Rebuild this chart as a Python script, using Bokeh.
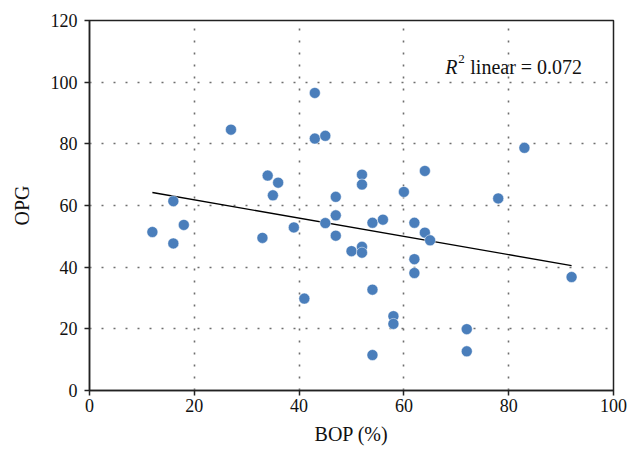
from bokeh.plotting import figure
from bokeh.models import Label, Range1d, SingleIntervalTicker
from bokeh.embed import file_html
from bokeh.resources import INLINE

# Data
bop = [12, 16, 16, 18, 27, 33, 34, 35, 36, 39, 41, 43, 43, 45, 45, 47, 47, 47,
       50, 52, 52, 52, 52, 54, 54, 54, 56, 58, 58, 60, 62, 62, 62, 64, 64, 65,
       72, 72, 78, 83, 92]
opg = [51.4, 61.4, 47.7, 53.7, 84.6, 49.5, 69.7, 63.3, 67.4, 52.9, 29.8, 96.5,
       81.7, 82.6, 54.3, 62.8, 56.8, 50.2, 45.2, 70.0, 66.8, 46.6, 44.7, 54.4,
       32.7, 11.5, 55.4, 24.1, 21.6, 64.4, 54.4, 42.6, 38.1, 71.2, 51.2, 48.7,
       19.9, 12.7, 62.3, 78.7, 36.8]
fit_x = [12, 92]
fit_y = [64.2, 40.5]
r2_text = "linear = 0.072"

FONT = "Liberation Serif"

p = figure(width=627, height=447, output_backend="svg", toolbar_location=None,
           x_range=Range1d(0, 100), y_range=Range1d(0, 120),
           min_border_left=89, min_border_right=14, min_border_top=20,
           min_border_bottom=55)

p.background_fill_color = "white"
p.border_fill_color = "white"
p.outline_line_color = "#222222"
p.outline_line_width = 1.5

for ax in (p.xaxis[0], p.yaxis[0]):
    ax.ticker = SingleIntervalTicker(interval=20)
    ax.minor_tick_line_color = None
    ax.major_tick_in = 0
    ax.major_tick_out = 5
    ax.major_tick_line_color = "#222222"
    ax.major_tick_line_width = 1.5
    ax.axis_line_color = "#222222"
    ax.axis_line_width = 1.5
    ax.major_label_text_font = FONT
    ax.major_label_text_font_size = "18px"
    ax.major_label_text_color = "#111111"
    ax.axis_label_text_font = FONT
    ax.axis_label_text_font_size = "20px"
    ax.axis_label_text_font_style = "normal"
    ax.axis_label_text_color = "#111111"

p.xaxis.axis_label = "BOP (%)"
p.yaxis.axis_label = "OPG"
p.xaxis.major_label_standoff = 3
p.xaxis.axis_label_standoff = 8
p.yaxis.major_label_standoff = 7
p.yaxis.axis_label_standoff = 15

for g in (p.xgrid[0], p.ygrid[0]):
    g.ticker = SingleIntervalTicker(interval=20)
    g.grid_line_color = "#6e6e6e"
    g.grid_line_width = 1.6
    g.grid_line_dash = "2 10"

p.line(fit_x, fit_y, line_color="black", line_width=1.4)
p.scatter(bop, opg, size=11, fill_color="#4a7ebb", line_color="white",
          line_alpha=0.6, line_width=0.8)

p.add_layout(Label(x=67.9, y=104.8, text="R", text_font=FONT,
                   text_font_size="20px", text_font_style="italic",
                   text_color="#111111", text_baseline="alphabetic"))
p.add_layout(Label(x=67.9, y=104.8, x_offset=13, y_offset=8, text="2",
                   text_font=FONT, text_font_size="13px",
                   text_color="#111111", text_baseline="alphabetic"))
p.add_layout(Label(x=67.9, y=104.8, x_offset=25, text=r2_text,
                   text_font=FONT, text_font_size="20px",
                   text_color="#111111", text_baseline="alphabetic"))

open("out.html", "w").write(file_html(p, INLINE))
